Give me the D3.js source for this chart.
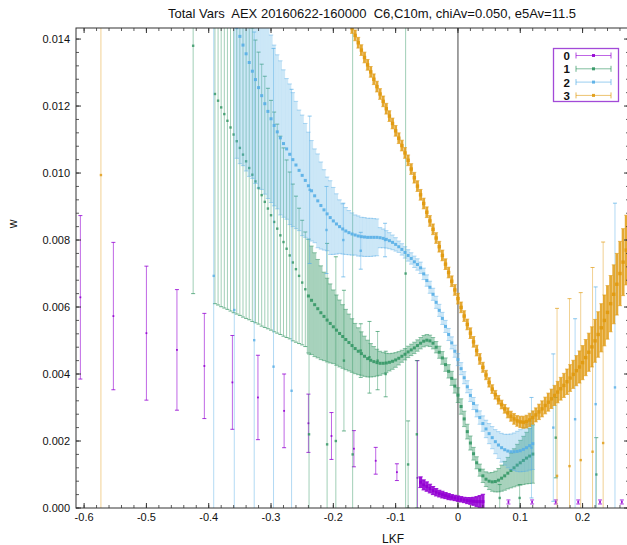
<!DOCTYPE html>
<html><head><meta charset="utf-8">
<script src="https://cdn.jsdelivr.net/npm/d3@7"></script>
<style>
html,body{margin:0;padding:0;background:#fff;overflow:hidden}
svg{display:block;font-family:"Liberation Sans",Arial,Helvetica,sans-serif}
</style></head><body>
<svg id="c" width="627" height="545"></svg>
<script>
// ---------------- text ----------------
const titleText = "Total Vars  AEX 20160622-160000  C6,C10m, chiAv=0.050, e5Av=11.5";
const xLabel = "LKF";
const yLabel = "w";
const seriesNames = ["0", "1", "2", "3"];
const xTicks = [-0.6, -0.5, -0.4, -0.3, -0.2, -0.1, 0, 0.1, 0.2];
const xTickLabels = ["-0.6", "-0.5", "-0.4", "-0.3", "-0.2", "-0.1", "0", "0.1", "0.2"];
const yTicks = [0, 0.002, 0.004, 0.006, 0.008, 0.010, 0.012, 0.014];
const yTickLabels = ["0.000", "0.002", "0.004", "0.006", "0.008", "0.010", "0.012", "0.014"];

// ---------------- series 0 (purple) ----------------
const s0SparseX = [-0.606, -0.553, -0.5, -0.451, -0.407, -0.362, -0.321, -0.279, -0.240, -0.203, -0.167, -0.132, -0.098, -0.065,
  0.081, 0.119, 0.157, 0.193, 0.228, 0.263];
const s0SparseY = [0.00629, 0.00573, 0.00522, 0.00472, 0.00424, 0.00375, 0.0033, 0.0029, 0.00253, 0.00215, 0.00177, 0.00141, 0.00107, 0.0009,
  0.00018, 0.00018, 0.00018, 0.00018, 0.00018, 0.00018];
const s0SparseE = [0.00244, 0.0022, 0.002, 0.0018, 0.00157, 0.0014, 0.00126, 0.0011, 0.00087, 0.0007, 0.00054, 0.0004, 0.00025, 0.0035,
  0.00006, 0.00006, 0.00006, 0.00006, 0.00006, 0.00006];
const s0BandX = [-0.060, -0.055, -0.050, -0.045, -0.040, -0.035, -0.030, -0.025, -0.020, -0.015,
  -0.010, -0.005, 0.000, 0.005, 0.010, 0.015, 0.020, 0.025, 0.030, 0.035, 0.040];
const s0BandY = [0.00077, 0.00069, 0.00064, 0.00058, 0.00052, 0.00047, 0.00043, 0.0004, 0.00037, 0.00034,
  0.00032, 0.0003, 0.00028, 0.00026, 0.00024, 0.00022, 0.00021, 0.0002, 0.00019, 0.00019, 0.00019];
const s0BandE = [0.00016, 0.00015, 0.00014, 0.00013, 0.00012, 0.00011, 0.0001, 0.0001, 0.00009, 0.00009,
  0.00008, 0.00008, 0.00008, 0.00008, 0.00008, 0.00009, 0.0001, 0.00012, 0.00015, 0.00018, 0.00022];

// ---------------- series 1 (green) ----------------
const s1SparseX = [-0.425,
  -0.390, -0.385, -0.380, -0.375, -0.370, -0.365, -0.360, -0.355, -0.350, -0.345,
  -0.340, -0.335, -0.330, -0.325, -0.320, -0.315, -0.310, -0.305, -0.300, -0.295,
  -0.290, -0.285, -0.280, -0.275, -0.270, -0.265, -0.260, -0.255, -0.250, -0.245,
  -0.239, -0.210, -0.196, -0.183, -0.169, -0.156, -0.142, -0.129, -0.116, -0.084, -0.080, -0.066,
  0.067, 0.099, 0.157, 0.222];
const s1SparseY = [0.0138,
  0.01236, 0.01216, 0.01196, 0.01176, 0.01156, 0.01136, 0.01115, 0.01095, 0.01075, 0.01055,
  0.01035, 0.01015, 0.00995, 0.00975, 0.00955, 0.00934, 0.00914, 0.00894, 0.00874, 0.00854,
  0.00834, 0.00814, 0.00794, 0.00774, 0.00754, 0.00733, 0.00713, 0.00693, 0.00673, 0.00653,
  0.0022, 0.0019, 0.0020, 0.0044, 0.0016, 0.0047, 0.0045, 0.0044, 0.0040, 0.0070, 0.0013, 0.0022,
  0.0003, 0.0003, 0.0021, 0.0010];
const s1SparseE = [0.0074,
  0.00626, 0.0061, 0.00595, 0.00579, 0.00563, 0.00548, 0.00532, 0.00516, 0.005, 0.00485,
  0.00469, 0.00453, 0.00438, 0.00422, 0.00406, 0.00391, 0.00375, 0.00359, 0.00343, 0.00328,
  0.00312, 0.00296, 0.00281, 0.00265, 0.00249, 0.00234, 0.00218, 0.00202, 0.00186, 0.00171,
  0.0024, 0.006, 0.0055, 0.0021, 0.013, 0.0008, 0.00107, 0.00087, 0.00068, 0.0075, 0.0013, 0.0022,
  0.0004, 0.0004, 0.0012, 0.0011];
const s1BandX = [-0.240, -0.235, -0.230, -0.225, -0.220, -0.215, -0.210, -0.205, -0.200, -0.195,
  -0.190, -0.185, -0.180, -0.175, -0.170, -0.165, -0.160, -0.155, -0.150, -0.145,
  -0.140, -0.135, -0.130, -0.125, -0.120, -0.115, -0.110, -0.105, -0.100, -0.095,
  -0.090, -0.085, -0.080, -0.075, -0.070, -0.065, -0.060, -0.055, -0.050, -0.045,
  -0.040, -0.035, -0.030, -0.025, -0.020, -0.015, -0.010, -0.005, 0.000, 0.005,
  0.010, 0.015, 0.020, 0.025, 0.030, 0.035, 0.040, 0.045, 0.050, 0.055,
  0.060, 0.065, 0.070, 0.075, 0.080, 0.085, 0.090, 0.095, 0.100, 0.105,
  0.110, 0.115, 0.120];
const s1BandY = [0.00633, 0.0062, 0.00607, 0.00595, 0.00583, 0.00572, 0.00561, 0.00551, 0.00541, 0.00531,
  0.00521, 0.00512, 0.00503, 0.00494, 0.00485, 0.00476, 0.00468, 0.00461, 0.00453, 0.00446,
  0.00441, 0.00437, 0.00434, 0.00432, 0.00432, 0.00433, 0.00435, 0.00438, 0.00442, 0.00447,
  0.00453, 0.00459, 0.00466, 0.00472, 0.00478, 0.00485, 0.00492, 0.00498, 0.00501, 0.00499,
  0.00492, 0.0048, 0.00465, 0.00448, 0.00428, 0.00408, 0.00387, 0.00364, 0.00337, 0.00303,
  0.00266, 0.00228, 0.00194, 0.00162, 0.00135, 0.00113, 0.00096, 0.00086, 0.0008, 0.00078,
  0.00079, 0.00083, 0.00089, 0.00096, 0.00104, 0.00112, 0.0012, 0.00128, 0.00135, 0.00142,
  0.00149, 0.00155, 0.00161];
const s1BandE = [0.0017, 0.00162, 0.00155, 0.00147, 0.0014, 0.00132, 0.00125, 0.00118, 0.0011, 0.00105,
  0.001, 0.00095, 0.0009, 0.00085, 0.0008, 0.00075, 0.0007, 0.00065, 0.0006, 0.00055,
  0.0005, 0.00045, 0.0004, 0.00036, 0.00032, 0.00029, 0.00026, 0.00024, 0.00022, 0.0002,
  0.00018, 0.00017, 0.00017, 0.00017, 0.00017, 0.00017, 0.00017, 0.00017, 0.00017, 0.00017,
  0.00017, 0.00017, 0.00018, 0.00019, 0.0002, 0.0002, 0.00021, 0.00021, 0.00022, 0.00023,
  0.00023, 0.00022, 0.00021, 0.00019, 0.00018, 0.00018, 0.0002, 0.00022, 0.00025, 0.00028,
  0.00031, 0.00035, 0.00039, 0.00043, 0.00047, 0.00052, 0.00057, 0.00062, 0.00067, 0.00072,
  0.00077, 0.00082, 0.00087];

// ---------------- series 2 (blue) ----------------
const s2SparseX = [-0.392, -0.359, -0.327, -0.296, -0.267, -0.238, -0.211, -0.184, -0.156, -0.117,
  0.118, 0.153, 0.188, 0.221, 0.252];
const s2SparseY = [0.00693, 0.00591, 0.00501, 0.00422, 0.0035, 0.0095, 0.0083, 0.0080, 0.00768, 0.0080,
  0.0018, 0.0024, 0.00265, 0.0031, 0.0036];
const s2SparseE = [0.0085, 0.0088, 0.0092, 0.0095, 0.009, 0.0022, 0.0013, 0.0011, 0.00055, 0.0005,
  0.0015, 0.0022, 0.003, 0.0035, 0.0055];
const s2BandX = [-0.355, -0.350, -0.345, -0.340, -0.335, -0.330, -0.325, -0.320, -0.315, -0.310,
  -0.305, -0.300, -0.295, -0.290, -0.285, -0.280, -0.275, -0.270, -0.265, -0.260,
  -0.255, -0.250, -0.245, -0.240, -0.235, -0.230, -0.225, -0.220, -0.215, -0.210,
  -0.205, -0.200, -0.195, -0.190, -0.185, -0.180, -0.175, -0.170, -0.165, -0.160,
  -0.155, -0.150, -0.145, -0.140, -0.135, -0.130, -0.125, -0.120, -0.115, -0.110,
  -0.105, -0.100, -0.095, -0.090, -0.085, -0.080, -0.075, -0.070, -0.065, -0.060,
  -0.055, -0.050, -0.045, -0.040, -0.035, -0.030, -0.025, -0.020, -0.015, -0.010,
  -0.005, 0.000, 0.005, 0.010, 0.015, 0.020, 0.025, 0.030, 0.035, 0.040,
  0.045, 0.050, 0.055, 0.060, 0.065, 0.070, 0.075, 0.080, 0.085, 0.090,
  0.095, 0.100, 0.105, 0.110, 0.115, 0.120];
const s2BandY = [0.01434, 0.01408, 0.01382, 0.01356, 0.0133, 0.01304, 0.01279, 0.01255, 0.01231, 0.01207,
  0.01184, 0.01162, 0.01142, 0.01123, 0.01105, 0.01088, 0.01072, 0.01056, 0.0104, 0.01024,
  0.01008, 0.00993, 0.00978, 0.00962, 0.00947, 0.00932, 0.00917, 0.00903, 0.0089, 0.00878,
  0.00867, 0.00857, 0.00848, 0.0084, 0.00833, 0.00827, 0.00822, 0.00818, 0.00815, 0.00812,
  0.0081, 0.00809, 0.00808, 0.00808, 0.00808, 0.00808, 0.00807, 0.00805, 0.00802, 0.00798,
  0.00793, 0.00787, 0.0078, 0.00772, 0.00763, 0.00754, 0.00745, 0.00735, 0.00727, 0.00717,
  0.00699, 0.00679, 0.00659, 0.00638, 0.00614, 0.0059, 0.00566, 0.00542, 0.00518, 0.00493,
  0.00468, 0.00443, 0.00416, 0.00389, 0.00362, 0.00336, 0.00312, 0.0029, 0.0027, 0.00252,
  0.00236, 0.00222, 0.0021, 0.00198, 0.00188, 0.0018, 0.00174, 0.0017, 0.00168, 0.00168,
  0.00169, 0.00171, 0.00175, 0.0018, 0.00186, 0.00192];
const s2BandE = [0.0039, 0.0038, 0.0036, 0.0035, 0.0034, 0.0032, 0.0031, 0.0030, 0.0028, 0.0027,
  0.0026, 0.0025, 0.0024, 0.0023, 0.0023, 0.0022, 0.0021, 0.0021, 0.0020, 0.0019,
  0.0018, 0.0018, 0.0017, 0.0016, 0.0015, 0.0014, 0.0014, 0.0013, 0.0012, 0.0011,
  0.0011, 0.0010, 0.0009, 0.0008, 0.00075, 0.0007, 0.00066, 0.00063, 0.0006, 0.0006,
  0.00058, 0.00058, 0.00057, 0.00057, 0.00056, 0.00055, 0.0003, 0.00028, 0.00026, 0.00024,
  0.00022, 0.0002, 0.00017, 0.00017, 0.00017, 0.00017, 0.00017, 0.00017, 0.00017, 0.00017,
  0.00017, 0.00017, 0.00018, 0.00018, 0.00018, 0.00018, 0.00018, 0.00018, 0.00018, 0.00018,
  0.00018, 0.00018, 0.00018, 0.00018, 0.00018, 0.00018, 0.00018, 0.00018, 0.0002, 0.00023,
  0.00026, 0.0003, 0.00033, 0.00036, 0.0004, 0.00043, 0.00046, 0.0005, 0.00053, 0.00056,
  0.0006, 0.00063, 0.00066, 0.0007, 0.00073, 0.00077];

// ---------------- series 3 (orange) ----------------
const s3SparseX = [-0.573, 0.159, 0.179, 0.197, 0.216, 0.233];
const s3SparseY = [0.00994, 0.00096, 0.00125, 0.00143, 0.00168, 0.00194];
const s3SparseE = [0.0105, 0.005, 0.005, 0.005, 0.0055, 0.006];
const s3BandX = [-0.175,
  -0.170, -0.165, -0.160, -0.155, -0.150, -0.145, -0.140, -0.135, -0.130, -0.125,
  -0.120, -0.115, -0.110, -0.105, -0.100, -0.095, -0.090, -0.085, -0.080, -0.075,
  -0.070, -0.065, -0.060, -0.055, -0.050, -0.045, -0.040, -0.035, -0.030, -0.025,
  -0.020, -0.015, -0.010, -0.005, 0.000, 0.005, 0.010, 0.015, 0.020, 0.025,
  0.030, 0.035, 0.040, 0.045, 0.050, 0.055, 0.060, 0.065, 0.070, 0.075,
  0.080, 0.085, 0.090, 0.095, 0.100, 0.105, 0.110, 0.115, 0.120, 0.125,
  0.130, 0.135, 0.140, 0.145, 0.150, 0.155, 0.160, 0.165, 0.170, 0.175,
  0.180, 0.185, 0.190, 0.195, 0.200, 0.205, 0.210, 0.215, 0.220, 0.225,
  0.230, 0.235, 0.240, 0.245, 0.250, 0.255, 0.260, 0.265, 0.270];
const s3BandY = [0.01455,
  0.01433, 0.01411, 0.01389, 0.01367, 0.01345, 0.01323, 0.01302, 0.0128, 0.01258, 0.01236,
  0.01214, 0.01192, 0.0117, 0.01148, 0.01126, 0.01104, 0.01082, 0.0106, 0.01038, 0.01012,
  0.00986, 0.00961, 0.00935, 0.00909, 0.00883, 0.00857, 0.00832, 0.00806, 0.0078, 0.00754,
  0.00728, 0.00703, 0.00677, 0.00651, 0.00625, 0.00599, 0.00573, 0.00548, 0.00522, 0.00496,
  0.0047, 0.00445, 0.0042, 0.00397, 0.00375, 0.00355, 0.00338, 0.00323, 0.00309, 0.00296,
  0.00284, 0.00274, 0.00266, 0.0026, 0.00257, 0.00256, 0.00258, 0.00263, 0.0027, 0.00278,
  0.00287, 0.00296, 0.00306, 0.00316, 0.00326, 0.00336, 0.00346, 0.00356, 0.00366, 0.00377,
  0.00388, 0.00399, 0.0041, 0.00421, 0.00434, 0.00449, 0.00465, 0.00481, 0.00499, 0.00518,
  0.00538, 0.0056, 0.00584, 0.0061, 0.00638, 0.00668, 0.007, 0.00734, 0.0077];
const s3BandE = [0.00016,
  0.00016, 0.00016, 0.00016, 0.00016, 0.00016, 0.00016, 0.00016, 0.00016, 0.00016, 0.00016,
  0.00016, 0.00016, 0.00016, 0.00016, 0.00016, 0.00016, 0.00016, 0.00016, 0.00016, 0.00016,
  0.00016, 0.00016, 0.00016, 0.00016, 0.00016, 0.00016, 0.00016, 0.00016, 0.00016, 0.00016,
  0.00016, 0.00016, 0.00016, 0.00016, 0.00016, 0.00016, 0.00016, 0.00016, 0.00016, 0.00016,
  0.00016, 0.00016, 0.00015, 0.00014, 0.00014, 0.00013, 0.00013, 0.00013, 0.00013, 0.00013,
  0.00015, 0.00015, 0.00016, 0.00016, 0.00017, 0.00018, 0.00019, 0.0002, 0.0002, 0.00021,
  0.00023, 0.00024, 0.00025, 0.00027, 0.00029, 0.0003, 0.00032, 0.00034, 0.00036, 0.00038,
  0.0004, 0.00042, 0.00045, 0.00048, 0.00051, 0.00054, 0.00057, 0.0006, 0.00064, 0.00068,
  0.00072, 0.00076, 0.0008, 0.00084, 0.00088, 0.00092, 0.00096, 0.001, 0.00104];

// ---------------- drawing ----------------
const seriesColors = ["#9400d3", "#2e9460", "#56aee6", "#e09a10"];
const pL = 76, pR = 629, pT = 28, pB = 508;
const xs = d3.scaleLinear().domain([-0.613, 0.2745]).range([pL, pR]);
const ys = d3.scaleLinear().domain([0, 0.01433]).range([pB, pT]);

const svg = d3.select("#c");
svg.append("defs").append("clipPath").attr("id", "clip")
  .append("rect").attr("x", pL).attr("y", pT).attr("width", pR - pL).attr("height", pB - pT);

const plot = svg.append("g").attr("clip-path", "url(#clip)");

plot.append("line").attr("x1", xs(0)).attr("x2", xs(0)).attr("y1", pT).attr("y2", pB)
  .attr("stroke", "#444").attr("stroke-width", 1);

function drawGroup(gx, gy, ge, color, st) {
  if (gx.length !== gy.length || gx.length !== ge.length)
    throw new Error("length mismatch " + gx.length + " " + gy.length + " " + ge.length);
  const g = plot.append("g");
  const pts = gx.map((v, i) => ({ x: v, y: gy[i], e: ge[i] }));
  g.selectAll("line.bar").data(pts).join("line").attr("class", "bar")
    .attr("x1", d => xs(d.x)).attr("x2", d => xs(d.x))
    .attr("y1", d => ys(d.y - d.e)).attr("y2", d => ys(d.y + d.e))
    .attr("stroke", color).attr("stroke-width", st.bw).attr("stroke-opacity", st.bo);
  ["lo", "hi"].forEach(k => {
    g.selectAll("line.cap" + k).data(pts).join("line").attr("class", "cap" + k)
      .attr("x1", d => xs(d.x) - st.cap).attr("x2", d => xs(d.x) + st.cap)
      .attr("y1", d => ys(k === "lo" ? d.y - d.e : d.y + d.e))
      .attr("y2", d => ys(k === "lo" ? d.y - d.e : d.y + d.e))
      .attr("stroke", color).attr("stroke-width", 1).attr("stroke-opacity", st.co);
  });
  g.selectAll("rect.mk").data(pts).join("rect").attr("class", "mk")
    .attr("x", d => xs(d.x) - st.ms / 2).attr("y", d => ys(d.y) - st.ms / 2)
    .attr("width", st.ms).attr("height", st.ms)
    .attr("fill", color).attr("fill-opacity", st.mo);
}

const sparseStyle = { bw: 1, bo: 0.45, cap: 2, co: 0.7, ms: 2.4, mo: 0.8 };
const greenBand = { bw: 3.2, bo: 0.42, cap: 2.2, co: 0.5, ms: 3, mo: 0.85 };
const blueBand = { bw: 3.2, bo: 0.3, cap: 2.2, co: 0.45, ms: 3, mo: 0.9 };
const purpleSparse = { bw: 1, bo: 0.6, cap: 2, co: 0.8, ms: 1.8, mo: 0.9 };
const purpleBand = { bw: 3.2, bo: 0.9, cap: 2.2, co: 0.9, ms: 3, mo: 1 };
const orangeBand = { bw: 2.8, bo: 0.85, cap: 2, co: 0.6, ms: 3.4, mo: 0.95 };

drawGroup(s0SparseX, s0SparseY, s0SparseE, seriesColors[0], purpleSparse);
drawGroup(s0BandX, s0BandY, s0BandE, seriesColors[0], purpleBand);
drawGroup(s1SparseX, s1SparseY, s1SparseE, seriesColors[1], sparseStyle);
drawGroup(s1BandX, s1BandY, s1BandE, seriesColors[1], greenBand);
drawGroup(s2SparseX, s2SparseY, s2SparseE, seriesColors[2], sparseStyle);
drawGroup(s2BandX, s2BandY, s2BandE, seriesColors[2], blueBand);
drawGroup(s3SparseX, s3SparseY, s3SparseE, seriesColors[3], sparseStyle);
drawGroup(s3BandX, s3BandY, s3BandE, seriesColors[3], orangeBand);

// ---------------- axes / border ----------------
const axisColor = "#333";
const ax = svg.append("g");
ax.append("rect").attr("x", pL).attr("y", pT).attr("width", pR - pL).attr("height", pB - pT)
  .attr("fill", "none").attr("stroke", axisColor).attr("stroke-width", 1);

const xMinor = d3.range(-0.6, 0.2745, 0.02);
const yMinor = d3.range(0, 0.01433, 0.0004);
xMinor.forEach(v => {
  [[pB, -3], [pT, 3]].forEach(([b, d]) =>
    ax.append("line").attr("x1", xs(v)).attr("x2", xs(v)).attr("y1", b).attr("y2", b + d)
      .attr("stroke", axisColor).attr("stroke-width", 1).attr("stroke-opacity", 0.8));
});
xTicks.forEach(v => {
  [[pB, -5], [pT, 5]].forEach(([b, d]) =>
    ax.append("line").attr("x1", xs(v)).attr("x2", xs(v)).attr("y1", b).attr("y2", b + d)
      .attr("stroke", axisColor).attr("stroke-width", 1));
});
yMinor.forEach(v => {
  [[pL, 3], [pR, -3]].forEach(([b, d]) =>
    ax.append("line").attr("y1", ys(v)).attr("y2", ys(v)).attr("x1", b).attr("x2", b + d)
      .attr("stroke", axisColor).attr("stroke-width", 1).attr("stroke-opacity", 0.8));
});
yTicks.forEach(v => {
  [[pL, 5], [pR, -5]].forEach(([b, d]) =>
    ax.append("line").attr("y1", ys(v)).attr("y2", ys(v)).attr("x1", b).attr("x2", b + d)
      .attr("stroke", axisColor).attr("stroke-width", 1));
});

ax.selectAll("text.xt").data(xTicks).join("text").attr("class", "xt")
  .attr("x", d => xs(d)).attr("y", 521).attr("text-anchor", "middle")
  .attr("font-size", 11).attr("fill", "#111").text((d, i) => xTickLabels[i]);
ax.selectAll("text.yt").data(yTicks).join("text").attr("class", "yt")
  .attr("x", 70).attr("y", d => ys(d) + 4).attr("text-anchor", "end")
  .attr("font-size", 11).attr("fill", "#111").text((d, i) => yTickLabels[i]);

svg.append("text").attr("x", 372).attr("y", 18).attr("text-anchor", "middle")
  .attr("font-size", 13).attr("fill", "#111").style("white-space", "pre").text(titleText);
svg.append("text").attr("x", 393).attr("y", 543).attr("text-anchor", "middle")
  .attr("font-size", 12).attr("fill", "#111").text(xLabel);
svg.append("text").attr("transform", "translate(17,224) rotate(-90)").attr("text-anchor", "middle")
  .attr("font-size", 12).attr("fill", "#111").text(yLabel);

// ---------------- legend ----------------
const lg = svg.append("g");
lg.append("rect").attr("x", 553.5).attr("y", 48.5).attr("width", 65).attr("height", 53)
  .attr("fill", "#fff").attr("stroke", "#a24ad8").attr("stroke-width", 1.3);
const rowY = [55.5, 68.8, 82.1, 95.4];
seriesNames.forEach((name, i) => {
  const c = seriesColors[i], ry = rowY[i];
  lg.append("text").attr("x", 570).attr("y", ry + 4.5).attr("text-anchor", "end")
    .attr("font-size", 11.5).attr("font-weight", "bold").attr("fill", "#111").text(name);
  lg.append("line").attr("x1", 576).attr("x2", 611).attr("y1", ry).attr("y2", ry)
    .attr("stroke", c).attr("stroke-width", 1).attr("stroke-opacity", 0.6);
  [576, 611].forEach(xx => lg.append("line").attr("x1", xx).attr("x2", xx).attr("y1", ry - 3).attr("y2", ry + 3)
    .attr("stroke", c).attr("stroke-width", 1).attr("stroke-opacity", 0.7));
  lg.append("rect").attr("x", 592).attr("y", ry - 1.5).attr("width", 3).attr("height", 3)
    .attr("fill", c).attr("fill-opacity", 0.9);
});
</script>
</body></html>
